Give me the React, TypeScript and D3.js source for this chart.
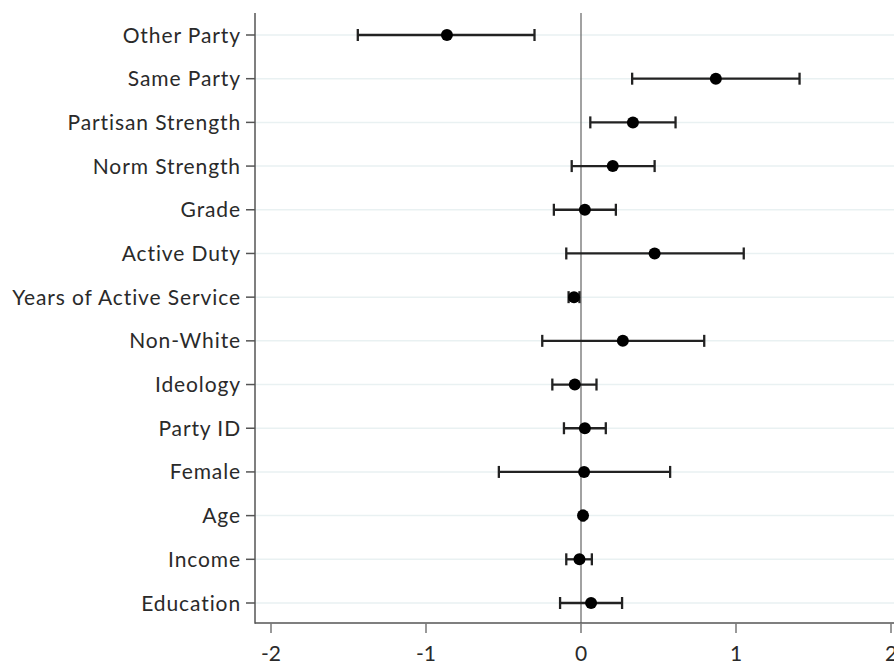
import React from 'react';
import * as d3 from 'd3';

// coefficient estimates with 95% intervals
const labels = [
  'Other Party', 'Same Party', 'Partisan Strength', 'Norm Strength', 'Grade',
  'Active Duty', 'Years of Active Service', 'Non-White', 'Ideology', 'Party ID',
  'Female', 'Age', 'Income', 'Education',
];
const estimates = [-0.865, 0.87, 0.335, 0.205, 0.025, 0.475, -0.045, 0.27, -0.04, 0.025, 0.02, 0.013, -0.01, 0.065];
const lower = [-1.44, 0.33, 0.06, -0.06, -0.175, -0.095, -0.08, -0.25, -0.185, -0.11, -0.53, 0.005, -0.095, -0.135];
const upper = [-0.3, 1.41, 0.61, 0.475, 0.225, 1.05, -0.01, 0.795, 0.1, 0.16, 0.575, 0.02, 0.07, 0.265];
const xTicks = [-2, -1, 0, 1, 2];

const W = 894;
const H = 665;
const axisLeft = 255;
const axisBottom = 623;
const plotTop = 13;
const font = 'Lato, "Open Sans", sans-serif';

export default function App() {
  const x = d3.scaleLinear().domain([-2, 2]).range([271, 891]);
  const y = d3.scalePoint<string>().domain(labels).range([35, 603]);

  return (
    <svg width={W} height={H} style={{ position: 'absolute', left: 0, top: 0, background: '#fff' }}>
      {/* grid lines */}
      {labels.map(l => (
        <line key={'g' + l} x1={axisLeft} x2={W} y1={y(l)} y2={y(l)} stroke="#e9f1f2" strokeWidth={1.5} />
      ))}
      {/* zero reference line */}
      <line x1={x(0)} x2={x(0)} y1={plotTop} y2={axisBottom} stroke="#707070" strokeWidth={1.3} />

      {/* error bars */}
      {labels.map((l, i) => {
        const yy = y(l) as number;
        return (
          <g key={'e' + l} stroke="#222" strokeWidth={2.3}>
            <line x1={x(lower[i])} x2={x(upper[i])} y1={yy} y2={yy} />
            <line x1={x(lower[i])} x2={x(lower[i])} y1={yy - 6} y2={yy + 6} />
            <line x1={x(upper[i])} x2={x(upper[i])} y1={yy - 6} y2={yy + 6} />
            <circle cx={x(estimates[i])} cy={yy} r={6} fill="#000" stroke="none" />
          </g>
        );
      })}

      {/* y axis */}
      <line x1={axisLeft} x2={axisLeft} y1={plotTop} y2={axisBottom + 0.75} stroke="#555" strokeWidth={1.5} />
      {labels.map(l => (
        <g key={'t' + l}>
          <line x1={axisLeft - 9} x2={axisLeft} y1={y(l)} y2={y(l)} stroke="#555" strokeWidth={1.5} />
          <text x={axisLeft - 14} y={y(l)} dy="0.36em" textAnchor="end" fontFamily={font} fontSize={21}
            letterSpacing={0.9} fill="#2a2a2a">
            {l}
          </text>
        </g>
      ))}

      {/* x axis */}
      <line x1={axisLeft} x2={W} y1={axisBottom} y2={axisBottom} stroke="#555" strokeWidth={1.5} />
      {xTicks.map(t => (
        <g key={'x' + t}>
          <line x1={x(t)} x2={x(t)} y1={axisBottom} y2={axisBottom + 10} stroke="#777" strokeWidth={1.5} />
          <text x={x(t)} y={653} dy="0.36em" textAnchor="middle" fontFamily={font} fontSize={21} fill="#2a2a2a">
            {String(t)}
          </text>
        </g>
      ))}
    </svg>
  );
}
